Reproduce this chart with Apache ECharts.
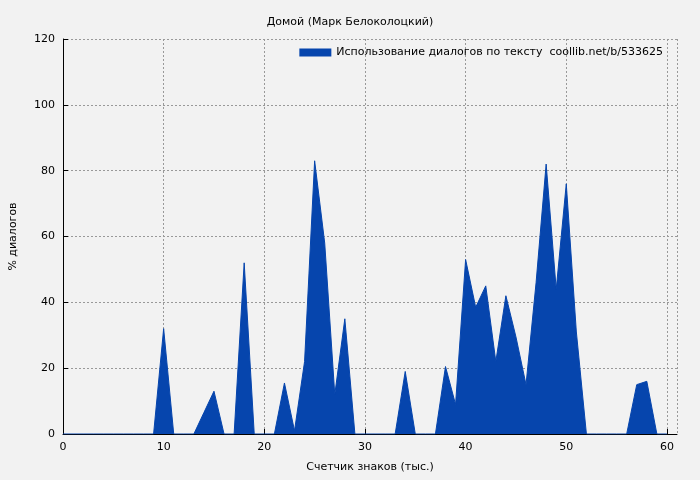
<!DOCTYPE html>
<html><head><meta charset="utf-8">
<script src="https://cdn.jsdelivr.net/npm/echarts@6/dist/echarts.min.js"></script>
<style>html,body{margin:0;background:#f2f2f2}#c{width:700px;height:480px}</style>
</head><body><div id="c"></div>
<script>
const xValues = [];
for (let i = 0; i <= 60; i++) xValues.push(i);
const percents = [0,0,0,0,0,0,0,0,0,0, 32,0,0,0,6.5,13,0,0,52,0, 0,0,15.5,1,22,83,58,12,35,0, 0,0,0,0,19,0,0,0,20.5,9, 53,38.5,45,22,42,29.5,15,46,82,44, 76,31,0,0,0,0,0,15,16,0, 0];
const seriesName = 'Использование диалогов по тексту  coollib.net/b/533625';
const chartTitle = 'Домой (Марк Белоколоцкий)';
const xName = 'Счетчик знаков (тыс.)';
const yName = '% диалогов';
const font = 'DejaVu Sans';
const chart = echarts.init(document.getElementById('c'));
chart.setOption({
  backgroundColor: '#f2f2f2',
  animation: false,
  textStyle: {fontFamily: font},
  title: {text: chartTitle, left: 'center', top: 12, textStyle: {fontSize: 11, fontWeight: 'normal', color: '#000', fontFamily: font}},
  legend: {right: 32, top: 42, itemWidth: 32, itemHeight: 8, icon: 'rect', itemGap: 4, align: 'left',
    textStyle: {fontSize: 11, color: '#000', fontFamily: font}, data: [seriesName]},
  grid: {left: 62, right: 23, top: 39, bottom: 46},
  xAxis: {type: 'value', min: 0, max: 61, interval: 10, name: xName, nameLocation: 'middle', nameGap: 28,
    nameTextStyle: {fontSize: 11, color: '#000'},
    axisLine: {lineStyle: {color: '#000'}}, axisTick: {inside: true, lineStyle: {color: '#000'}},
    axisLabel: {color: '#000', fontSize: 11, showMaxLabel: false},
    splitLine: {show: true, lineStyle: {type: [2, 2], color: '#999'}}},
  yAxis: {type: 'value', min: 0, max: 120, interval: 20, name: yName, nameLocation: 'middle', nameGap: 44,
    nameTextStyle: {fontSize: 11, color: '#000'},
    axisLine: {show: true, lineStyle: {color: '#000'}}, axisTick: {inside: true, lineStyle: {color: '#000'}},
    axisLabel: {color: '#000', fontSize: 11},
    splitLine: {show: true, lineStyle: {type: [2, 2], color: '#999'}}},
  series: [{name: seriesName, type: 'line', showSymbol: false, color: '#0645ad',
    lineStyle: {width: 1, color: '#0645ad'}, areaStyle: {color: '#0645ad', opacity: 1},
    data: xValues.map((x, i) => [x, percents[i]])}]
});
</script></body></html>
